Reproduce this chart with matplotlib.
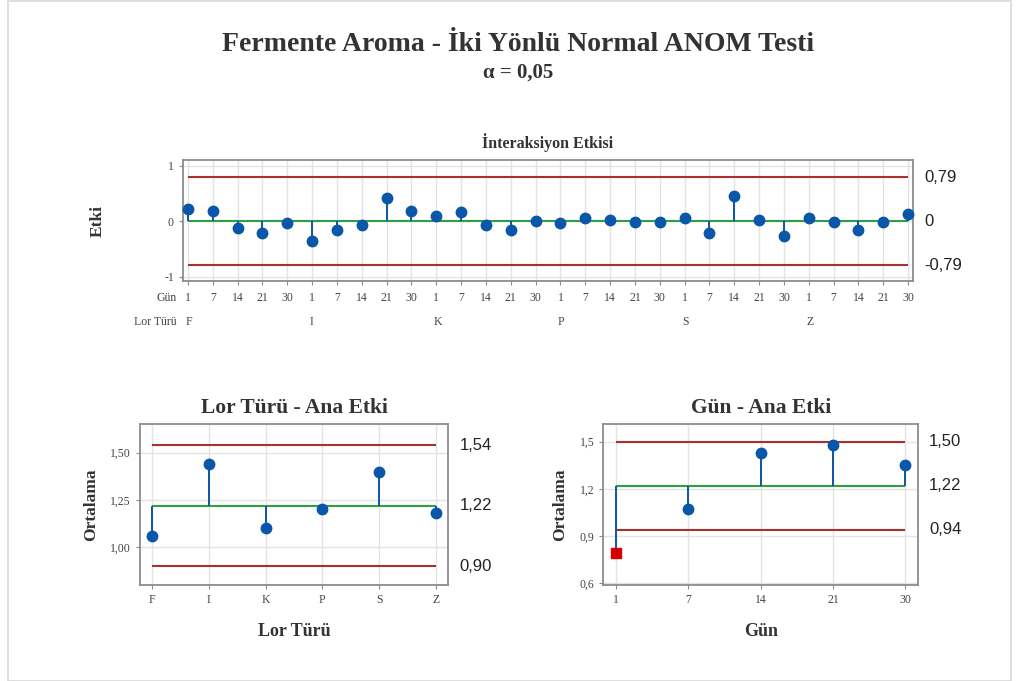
import numpy as np
import matplotlib
matplotlib.use("Agg")
import matplotlib.pyplot as plt
from matplotlib.patches import Rectangle
from matplotlib.ticker import FuncFormatter

plt.rcParams['font.family'] = ['Liberation Serif', 'DejaVu Serif']

# data
lor_turu = ["F", "I", "K", "P", "S", "Z"]
gun = ["1", "7", "14", "21", "30"]
etki = [0.22, 0.19, -0.12, -0.22, -0.03,
        -0.35, -0.15, -0.07, 0.42, 0.19,
        0.10, 0.16, -0.07, -0.15, 0.00,
        -0.03, 0.06, 0.03, -0.01, -0.01,
        0.06, -0.22, 0.45, 0.03, -0.26,
        0.06, -0.01, -0.15, -0.01, 0.13]
etki_limits = [-0.79, 0.0, 0.79]
etki_limit_labels = ["-0,79", "0", "0,79"]
lor_means = [1.06, 1.44, 1.10, 1.20, 1.40, 1.18]
lor_limits = [0.90, 1.22, 1.54]
gun_means = [0.79, 1.07, 1.43, 1.48, 1.35]
gun_limits = [0.94, 1.22, 1.50]

BLUE = "#0a56a8"
GREEN = "#2ea043"
RED = "#a8302d"
GRID = "#e3e3e3"
FRAME = "#8c8c8c"
TICKC = "#444444"
TXT = "#333333"


def comma(v, fmt="{:.2f}"):
    return fmt.format(v).replace(".", ",")


def anom_panel(ax, x, vals, limits, ylim, yticks, yfmt, labels=None):
    lo, c, hi = limits
    ax.set_ylim(*ylim)
    ax.set_yticks(yticks)
    ax.yaxis.set_major_formatter(FuncFormatter(lambda v, p: yfmt(v)))
    ax.grid(True, color=GRID, lw=1)
    ax.set_axisbelow(True)
    for s in ax.spines.values():
        s.set_color(FRAME)
        s.set_linewidth(1.3)
    ax.tick_params(colors=FRAME, labelcolor=TICKC, labelsize=8.5, length=3)
    ax.hlines([lo, hi], x[0], x[-1], color=RED, lw=1.5, zorder=2)
    ax.hlines(c, x[0], x[-1], color=GREEN, lw=1.5, zorder=3)
    for xi, v in zip(x, vals):
        ax.vlines(xi, c, v, color=BLUE, lw=1.4, zorder=3)
        if v < lo or v > hi:
            ax.plot(xi, v, "s", color="#d40000", ms=7, zorder=4, clip_on=False)
        else:
            ax.plot(xi, v, "o", color=BLUE, ms=7.5, zorder=4, clip_on=False)
    if labels is None:
        labels = [comma(v) for v in limits]
    for val, lab in zip(limits, labels):
        ax.annotate(lab, (1, val), xycoords=ax.get_yaxis_transform(),
                    xytext=(8, 0), textcoords="offset points",
                    fontsize=12, family="Liberation Sans", va="center",
                    ha="left", color="#222222")


fig = plt.figure(figsize=(10.19, 6.81), dpi=100)
fig.patch.set_facecolor("white")
fig.add_artist(Rectangle((0.008, 0.0), 0.984, 0.999, transform=fig.transFigure,
                         fill=False, ec="#d8d8d8", lw=1.2))

fig.text(0.508, 0.935, "Fermente Aroma - İki Yönlü Normal ANOM Testi",
         ha="center", va="center", fontsize=20, fontweight="bold", color=TXT)
fig.text(0.508, 0.893, "α = 0,05", ha="center", va="center", fontsize=15,
         fontweight="bold", color=TXT)

# interaction panel
ax1 = fig.add_axes([0.1796, 0.587, 0.7164, 0.178])
x1 = np.arange(len(etki))
anom_panel(ax1, x1, etki, etki_limits, (-1.08, 1.1), [-1, 0, 1],
           lambda v: "{:g}".format(v), labels=etki_limit_labels)
ax1.set_xlim(-0.2, len(etki) - 1 + 0.2)
ax1.set_xticks(x1)
ax1.set_xticklabels([])
ax1.set_title("İnteraksiyon Etkisi", fontsize=11.5, fontweight="bold",
              color=TXT, pad=9)
ax1.set_ylabel("Etki", fontsize=12.5, fontweight="bold", color=TXT, labelpad=42)
trans = ax1.get_xaxis_transform()
for i in x1:
    ax1.text(i, -0.14, gun[i % len(gun)], transform=trans, ha="center",
             va="center", fontsize=8.5, color=TICKC)
for j, name in enumerate(lor_turu):
    ax1.text(j * len(gun) - 0.1, -0.34, name, transform=trans, ha="left",
             va="center", fontsize=8.5, color=TICKC)
ax1.text(-0.45, -0.14, "Gün", transform=trans, ha="right", va="center",
         fontsize=8.5, color=TICKC)
ax1.text(-0.45, -0.34, "Lor Türü", transform=trans, ha="right", va="center",
         fontsize=8.5, color=TICKC)

# Lor Türü main effect
ax2 = fig.add_axes([0.137, 0.141, 0.303, 0.236])
x2 = np.arange(len(lor_turu))
anom_panel(ax2, x2, lor_means, lor_limits, (0.80, 1.65), [1.00, 1.25, 1.50],
           lambda v: comma(v))
ax2.set_xlim(-0.22, len(lor_turu) - 1 + 0.22)
ax2.set_xticks(x2)
ax2.set_xticklabels(lor_turu)
ax2.set_title("Lor Türü - Ana Etki", fontsize=15.5, fontweight="bold",
              color=TXT, pad=8)
ax2.set_xlabel("Lor Türü", fontsize=13, fontweight="bold", color=TXT, labelpad=12)
ax2.set_ylabel("Ortalama", fontsize=12.5, fontweight="bold", color=TXT, labelpad=8)

# Gün main effect
ax3 = fig.add_axes([0.592, 0.141, 0.309, 0.236])
x3 = np.arange(len(gun))
anom_panel(ax3, x3, gun_means, gun_limits, (0.59, 1.61), [0.6, 0.9, 1.2, 1.5],
           lambda v: comma(v, fmt="{:.1f}"))
ax3.set_xlim(-0.18, len(gun) - 1 + 0.18)
ax3.set_xticks(x3)
ax3.set_xticklabels(gun)
ax3.set_title("Gün - Ana Etki", fontsize=15.5, fontweight="bold",
              color=TXT, pad=8)
ax3.set_xlabel("Gün", fontsize=13, fontweight="bold", color=TXT, labelpad=12)
ax3.set_ylabel("Ortalama", fontsize=12.5, fontweight="bold", color=TXT, labelpad=8)

fig.savefig("out.png", dpi=100)
